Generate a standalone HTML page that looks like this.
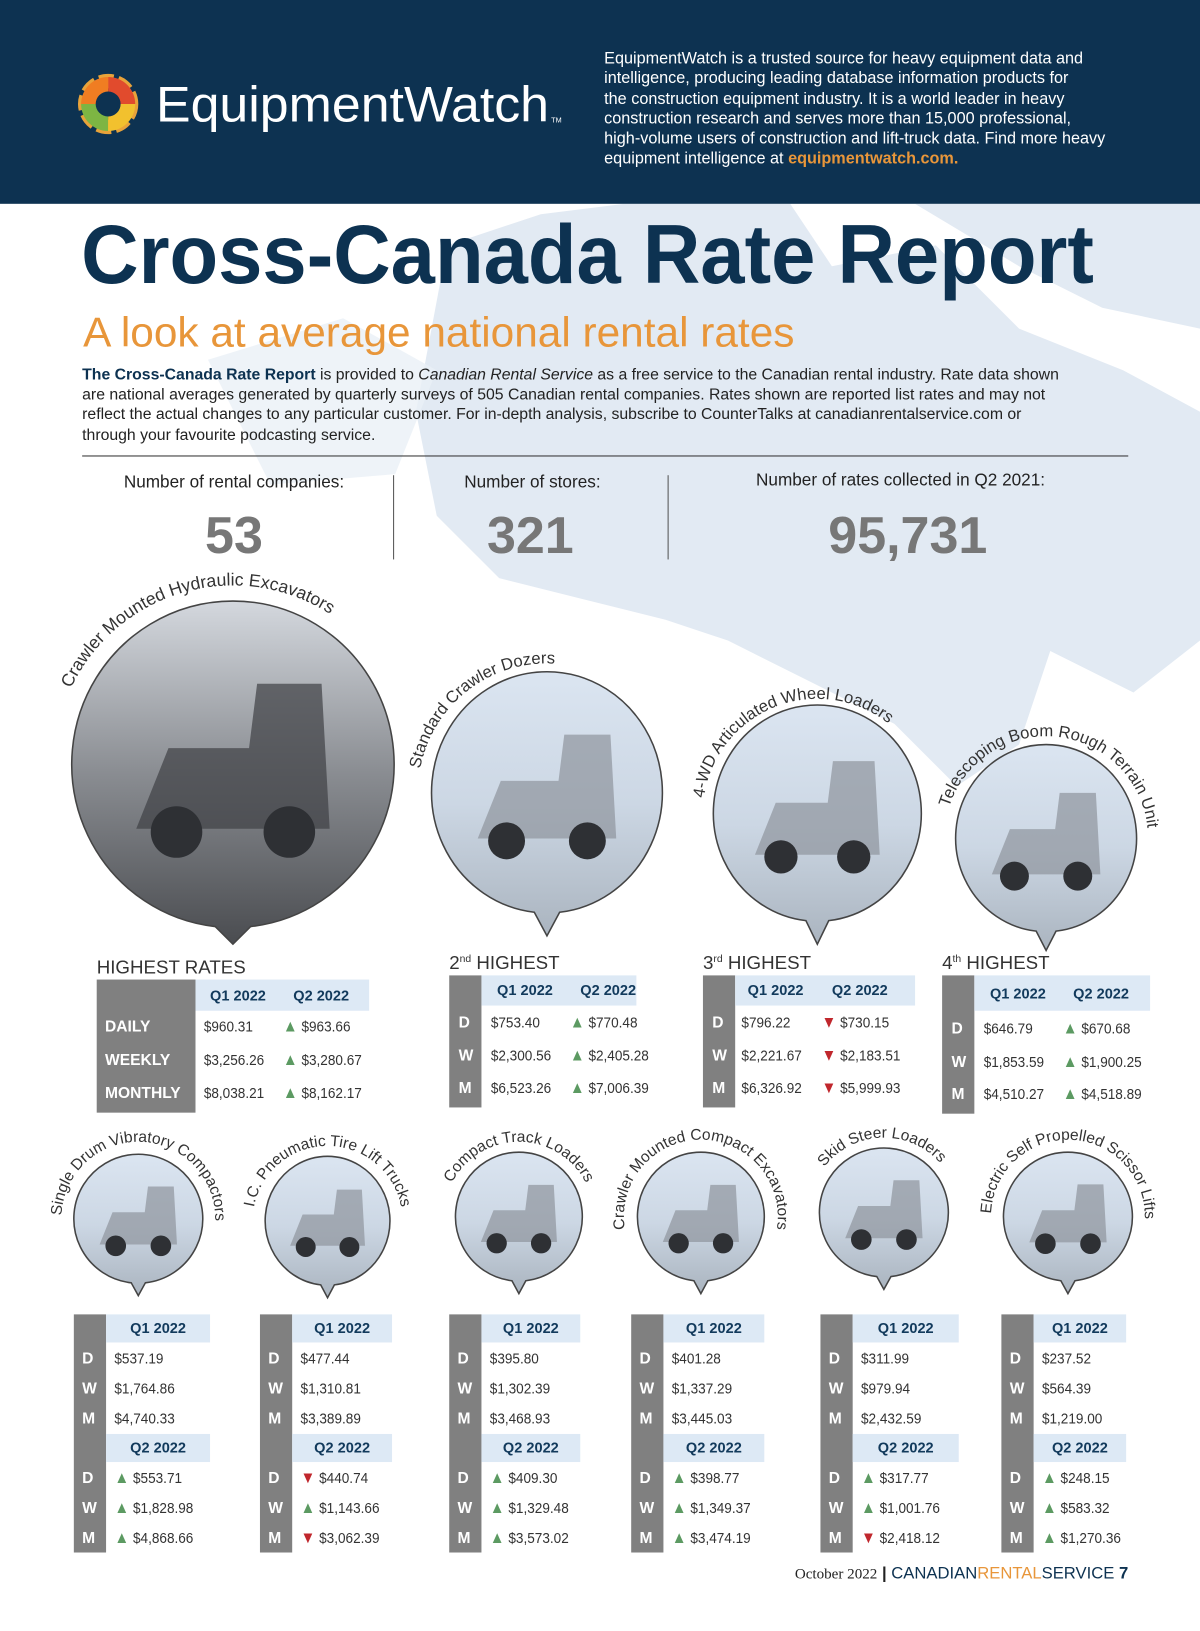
<!DOCTYPE html>
<html><head><meta charset="utf-8"><style>
html,body{margin:0;padding:0;background:#fff;}
body{width:1200px;height:1631px;overflow:hidden;position:relative;font-family:"Liberation Sans",sans-serif;}
#page{position:absolute;left:0;top:0;width:1154px;height:1568px;transform:scale(1.03986);transform-origin:0 0;}
.abs{position:absolute;}
.hdr{left:0;top:0;width:1154px;height:196px;background:#0d3251;}
.blurb{left:581px;top:47px;color:#fff;font-size:15.6px;line-height:19.3px;white-space:nowrap;}
.intro{left:79px;top:351px;color:#222;font-size:15.2px;line-height:19.2px;white-space:nowrap;}
.lbl{font-size:16.5px;color:#222;white-space:nowrap;transform:translateX(-50%);}
.num{font-size:50px;font-weight:bold;color:#777;transform:translateX(-50%);}
.gray{background:#808080;}
.hb{background:#dde9f5;color:#123a5c;font-weight:bold;font-size:14px;}
.cell{font-size:14.5px;color:#333;white-space:nowrap;transform:scaleX(0.9);transform-origin:0 50%;}
.let{color:#fff;font-weight:bold;font-size:15px;}
.up{color:#5c9a62;font-size:16px;}
.dn{color:#c0272d;font-size:16px;}
</style></head><body>
<div id="page">
<svg class="abs" style="left:0;top:196px" width="1154" height="720">
 <path d="M430 40 L520 10 L600 0 L760 0 L800 60 L900 40 L980 120 L1080 160 L1154 200 L1154 420 L1090 470 L1010 430 L980 520 L920 560 L860 500 L800 470 L700 420 L640 400 L560 380 L480 360 L420 300 L400 200 Z" fill="#e2eaf3"/>
 <path d="M880 0 L1154 0 L1154 120 L1060 100 L980 60 Z" fill="#e2eaf3"/>
 <path d="M200 150 L330 110 L420 160 L380 260 L260 270 Z" fill="#eaf0f6" opacity="0.8"/>
</svg>
<div class="abs hdr"></div>
<svg class="abs" style="left:72px;top:68px" width="64" height="64">
 <circle cx="32" cy="32" r="22" fill="none" stroke="#e8a33a" stroke-width="14" stroke-dasharray="12 4"/>
 <path d="M32 6 A26 26 0 0 1 58 32 L44 32 A12 12 0 0 0 32 20Z" fill="#e14b2d"/>
 <path d="M6 32 A26 26 0 0 1 32 6 L32 20 A12 12 0 0 0 20 32Z" fill="#f07d22"/>
 <path d="M6 32 A26 26 0 0 0 32 58 L32 44 A12 12 0 0 1 20 32Z" fill="#7db543"/>
 <path d="M58 32 A26 26 0 0 1 32 58 L32 44 A12 12 0 0 0 44 32Z" fill="#f2c12e"/>
 <circle cx="32" cy="32" r="9" fill="#0d3251"/>
</svg>
<svg class="abs" style="left:0;top:0" width="1154" height="360">
 <text x="150" y="117" font-size="48" fill="#fff" textLength="378" lengthAdjust="spacingAndGlyphs" font-family="Liberation Sans">EquipmentWatch</text>
 <text x="530" y="118" font-size="7" fill="#fff">TM</text>
 <text x="78" y="272" font-size="80" font-weight="bold" fill="#0d3251" textLength="974" lengthAdjust="spacingAndGlyphs" font-family="Liberation Sans">Cross-Canada Rate Report</text>
 <text x="80" y="333" font-size="40" fill="#e8963a" textLength="684" lengthAdjust="spacingAndGlyphs" font-family="Liberation Sans">A look at average national rental rates</text>
</svg>
<div class="abs blurb">EquipmentWatch is a trusted source for heavy equipment data and<br>intelligence, producing leading database information products for<br>the construction equipment industry. It is a world leader in heavy<br>construction research and serves more than 15,000 professional,<br>high-volume users of construction and lift-truck data. Find more heavy<br>equipment intelligence at <b style="color:#e8963a">equipmentwatch.com.</b></div>
<div class="abs intro"><b style="color:#0d3251">The Cross-Canada Rate Report</b> is provided to <i>Canadian Rental Service</i> as a free service to the Canadian rental industry. Rate data shown<br>are national averages generated by quarterly surveys of 505 Canadian rental companies. Rates shown are reported list rates and may not<br>reflect the actual changes to any particular customer. For in-depth analysis, subscribe to CounterTalks at canadianrentalservice.com or<br>through your favourite podcasting service.</div>
<div class="abs" style="left:79px;top:438px;width:1006px;height:1px;background:#333"></div>
<div class="abs lbl" style="left:225px;top:455px">Number of rental companies:</div>
<div class="abs lbl" style="left:512px;top:455px">Number of stores:</div>
<div class="abs lbl" style="left:866px;top:453px">Number of rates collected in Q2 2021:</div>
<div class="abs num" style="left:225px;top:486px">53</div>
<div class="abs num" style="left:510px;top:486px">321</div>
<div class="abs num" style="left:873px;top:486px">95,731</div>
<div class="abs" style="left:378px;top:457px;width:1px;height:81px;background:#555"></div>
<div class="abs" style="left:642px;top:457px;width:1px;height:81px;background:#555"></div>
<svg id="circles" class="abs" style="left:0;top:0" width="1154" height="1260"></svg>
<div id="tables"></div>
<div class="abs" style="right:69px;top:1505px;white-space:nowrap;font-size:16px;color:#0d3251"><span style="font-family:'Liberation Serif',serif;font-size:14.5px;color:#222">October 2022</span> <b style="color:#222">|</b> CANADIAN<span style="color:#e8963a">RENTAL</span>SERVICE <b>7</b></div>
</div>
<script>
// ----- data -----
const topTitles = ["HIGHEST RATES", "2nd HIGHEST", "3rd HIGHEST", "4th HIGHEST"];
const topQ1 = [[960.31,3256.26,8038.21],[753.40,2300.56,6523.26],[796.22,2221.67,6326.92],[646.79,1853.59,4510.27]];
const topQ2 = [[963.66,3280.67,8162.17],[770.48,2405.28,7006.39],[730.15,2183.51,5999.93],[670.68,1900.25,4518.89]];
const topDir = [["u","u","u"],["u","u","u"],["d","d","d"],["u","u","u"]];
const botQ1 = [[537.19,1764.86,4740.33],[477.44,1310.81,3389.89],[395.80,1302.39,3468.93],[401.28,1337.29,3445.03],[311.99,979.94,2432.59],[237.52,564.39,1219.00]];
const botQ2 = [[553.71,1828.98,4868.66],[440.74,1143.66,3062.39],[409.30,1329.48,3573.02],[398.77,1349.37,3474.19],[317.77,1001.76,2418.12],[248.15,583.32,1270.36]];
const botDir = [["u","u","u"],["d","u","d"],["u","u","u"],["u","u","u"],["u","u","d"],["u","u","u"]];
const equipNames = ["Crawler Mounted Hydraulic Excavators","Standard Crawler Dozers","4-WD Articulated Wheel Loaders","Telescoping Boom Rough Terrain Unit","Single Drum Vibratory Compactors","I.C. Pneumatic Tire Lift Trucks","Compact Track Loaders","Crawler Mounted Compact Excavators","Skid Steer Loaders","Electric Self Propelled Scissor Lifts"];

// ----- layout -----
// [cx, cy, rx, ry, labelAngle, labelRadius, fontSize, tipLength]
const circ = [[224,735,155,157,106,172,17,16],[526,762,111,116,128,124,16,22],[786,782,100,104,112,110,16,22],[1006,806,87,90,84,98,16,18],
 [133,1172,62,62,88,74,15,12],[315,1174,60,62,90,72,15,12],[499,1170,61,62,90,72,15,12],[674,1170,61,62,90,74,15,12],[850,1166,62,62,92,72,15,12],[1027,1170,62,62,88,74,15,12]];
const fmt = v => "$" + v.toLocaleString("en-US",{minimumFractionDigits:2,maximumFractionDigits:2});
const NS = "http://www.w3.org/2000/svg";
const svg = document.getElementById("circles");
circ.forEach((c,i)=>{
  const [cx,cy,rx,ry,ang,tr,fs,tip] = c;
  const g = document.createElementNS(NS,"g");
  
  
  const a0 = Math.PI/2 + 0.11, a1 = Math.PI/2 - 0.11;
  const x0 = cx+rx*Math.cos(a0), y0 = cy+ry*Math.sin(a0), x1 = cx+rx*Math.cos(a1), y1 = cy+ry*Math.sin(a1);
  const p = document.createElementNS(NS,"path");
  p.setAttribute("d",`M${x1} ${y1} A${rx} ${ry} 0 1 0 ${x0} ${y0} L${cx} ${cy+ry+tip} Z`);
  const gid = "gr"+i;
  const grad = document.createElementNS(NS,"linearGradient");
  grad.setAttribute("id",gid);grad.setAttribute("x1","0");grad.setAttribute("y1","0");grad.setAttribute("x2","0");grad.setAttribute("y2","1");
  const cols = i===0 ? ["#d4d8de","#8a8d92","#4a4c50"] : ["#dbe5f1","#ccd7e4","#aab4bf"];
  cols.forEach((col,k)=>{const s=document.createElementNS(NS,"stop");s.setAttribute("offset",k/2);s.setAttribute("stop-color",col);grad.appendChild(s);});
  svg.appendChild(grad);
  p.setAttribute("fill",`url(#${gid})`);p.setAttribute("stroke","#444");p.setAttribute("stroke-width","1.5");
  g.appendChild(p);
  const m = document.createElementNS(NS,"path");
  const s = rx/100;
  m.setAttribute("d",`M${cx-60*s} ${cy+40*s} L${cx-40*s} ${cy-10*s} L${cx+10*s} ${cy-10*s} L${cx+15*s} ${cy-50*s} L${cx+55*s} ${cy-50*s} L${cx+60*s} ${cy+40*s} Z`);
  m.setAttribute("fill", i===0?"#3e4045":"#8e949c"); m.setAttribute("opacity","0.7");
  g.appendChild(m);
  [-35,35].forEach(dx=>{const w=document.createElementNS(NS,"circle");w.setAttribute("cx",cx+dx*s);w.setAttribute("cy",cy+42*s);w.setAttribute("r",16*s);w.setAttribute("fill","#2e3034");g.appendChild(w);});
  const pid = "arc"+i;
  const sa = (ang+110)*Math.PI/180, ea = (ang-110)*Math.PI/180;
  const arc = document.createElementNS(NS,"path");
  arc.setAttribute("id",pid);
  arc.setAttribute("d",`M${cx+tr*Math.cos(sa)} ${cy-tr*Math.sin(sa)} A${tr} ${tr} 0 1 1 ${cx+tr*Math.cos(ea)} ${cy-tr*Math.sin(ea)}`);
  arc.setAttribute("fill","none");
  g.appendChild(arc);
  const t = document.createElementNS(NS,"text");
  
  
  t.setAttribute("font-size",fs);t.setAttribute("fill","#333");t.setAttribute("font-family","Liberation Sans");
  const tp = document.createElementNS(NS,"textPath");
  tp.setAttribute("href","#"+pid);tp.setAttribute("startOffset","50%");tp.setAttribute("text-anchor","middle");
  tp.textContent = equipNames[i];
  t.appendChild(tp);g.appendChild(t);
  svg.appendChild(g);
});

const page = document.getElementById("page");
function box(x,y,w,h,cls,txt){
  const d=document.createElement("div");
  d.className="abs "+cls;
  d.style.left=x+"px";d.style.top=y+"px";
  if(w)d.style.width=w+"px";
  if(h){d.style.height=h+"px";d.style.lineHeight=h+"px";}
  if(txt!==undefined)d.innerHTML=txt;
  page.appendChild(d);return d;
}
function arrow(dir){return dir==="u"?'<span class="up">▲</span> ':'<span class="dn">▼</span> ';}
const topL = [[93,95,167,942,30,988,32,196,272,920],[432,31,149,938,29,984,31.5,472,548,916],[676,31,173,938,29,984,31.5,713,790,916],[906,31,169,938,34,990,31.5,946,1022,916]];
const longLab = ["DAILY","WEEKLY","MONTHLY"], shortLab=["D","W","M"];
topL.forEach((L,i)=>{
  const [gx,gw,hw,hy,hh,r0,rs,q1x,q2x,ty]=L;
  let tt = topTitles[i].replace(/^(\d)(nd|rd|th)/,'$1<sup style="font-size:10px">$2</sup>');
  const t=box(gx,ty,null,null,"",tt);t.style.fontSize="18px";t.style.color="#333";t.style.whiteSpace="nowrap";
  
  
  const g=box(gx,hy,gw,r0+rs*2+18-hy,"gray");
  
  
  const h=box(gx+gw,hy,hw,hh,"hb");
  
  
  const a=box(q1x+6-(gx+gw),0,null,null,"","Q1 2022");h.appendChild(a);a.style.top="0";
  const b=box(q2x+10-(gx+gw),0,null,null,"","Q2 2022");h.appendChild(b);b.style.top="0";
  for(let r=0;r<3;r++){
    const y=r0+rs*r-10;
    const L2=box(i===0?gx+8:gx+9,y,null,20,"let",i===0?longLab[r]:shortLab[r]);
    
    
    const c1=box(q1x,y,null,20,"cell",fmt(topQ1[i][r]));
    
    
    const c2=box(q2x,y,null,20,"cell",arrow(topDir[i][r])+fmt(topQ2[i][r]));
    
    
  }
});
const botL = [[71,100],[250,96],[432,95],[607,97],[789,102],[963,89]];
botL.forEach((L,i)=>{
  const [gx,hw]=L, gw=31;
  const g=box(gx,1264,gw,229,"gray");
  
  
  [[1264,"Q1 2022",botQ1[i],1307,null],[1379,"Q2 2022",botQ2[i],1422,botDir[i]]].forEach(([hy,lab,vals,r0,dirs])=>{
    const h=box(gx+gw,hy,hw,27,"hb",lab);h.style.textAlign="center";
    
    
    for(let r=0;r<3;r++){
      const y=r0+29*r-10;
      const l=box(gx+8,y,null,20,"let",shortLab[r]);
      
      
      const c=box(gx+gw+8,y,null,20,"cell",(dirs?arrow(dirs[r]):"")+fmt(vals[r]));
      
      
    }
  });
});
</script>
</body></html>
